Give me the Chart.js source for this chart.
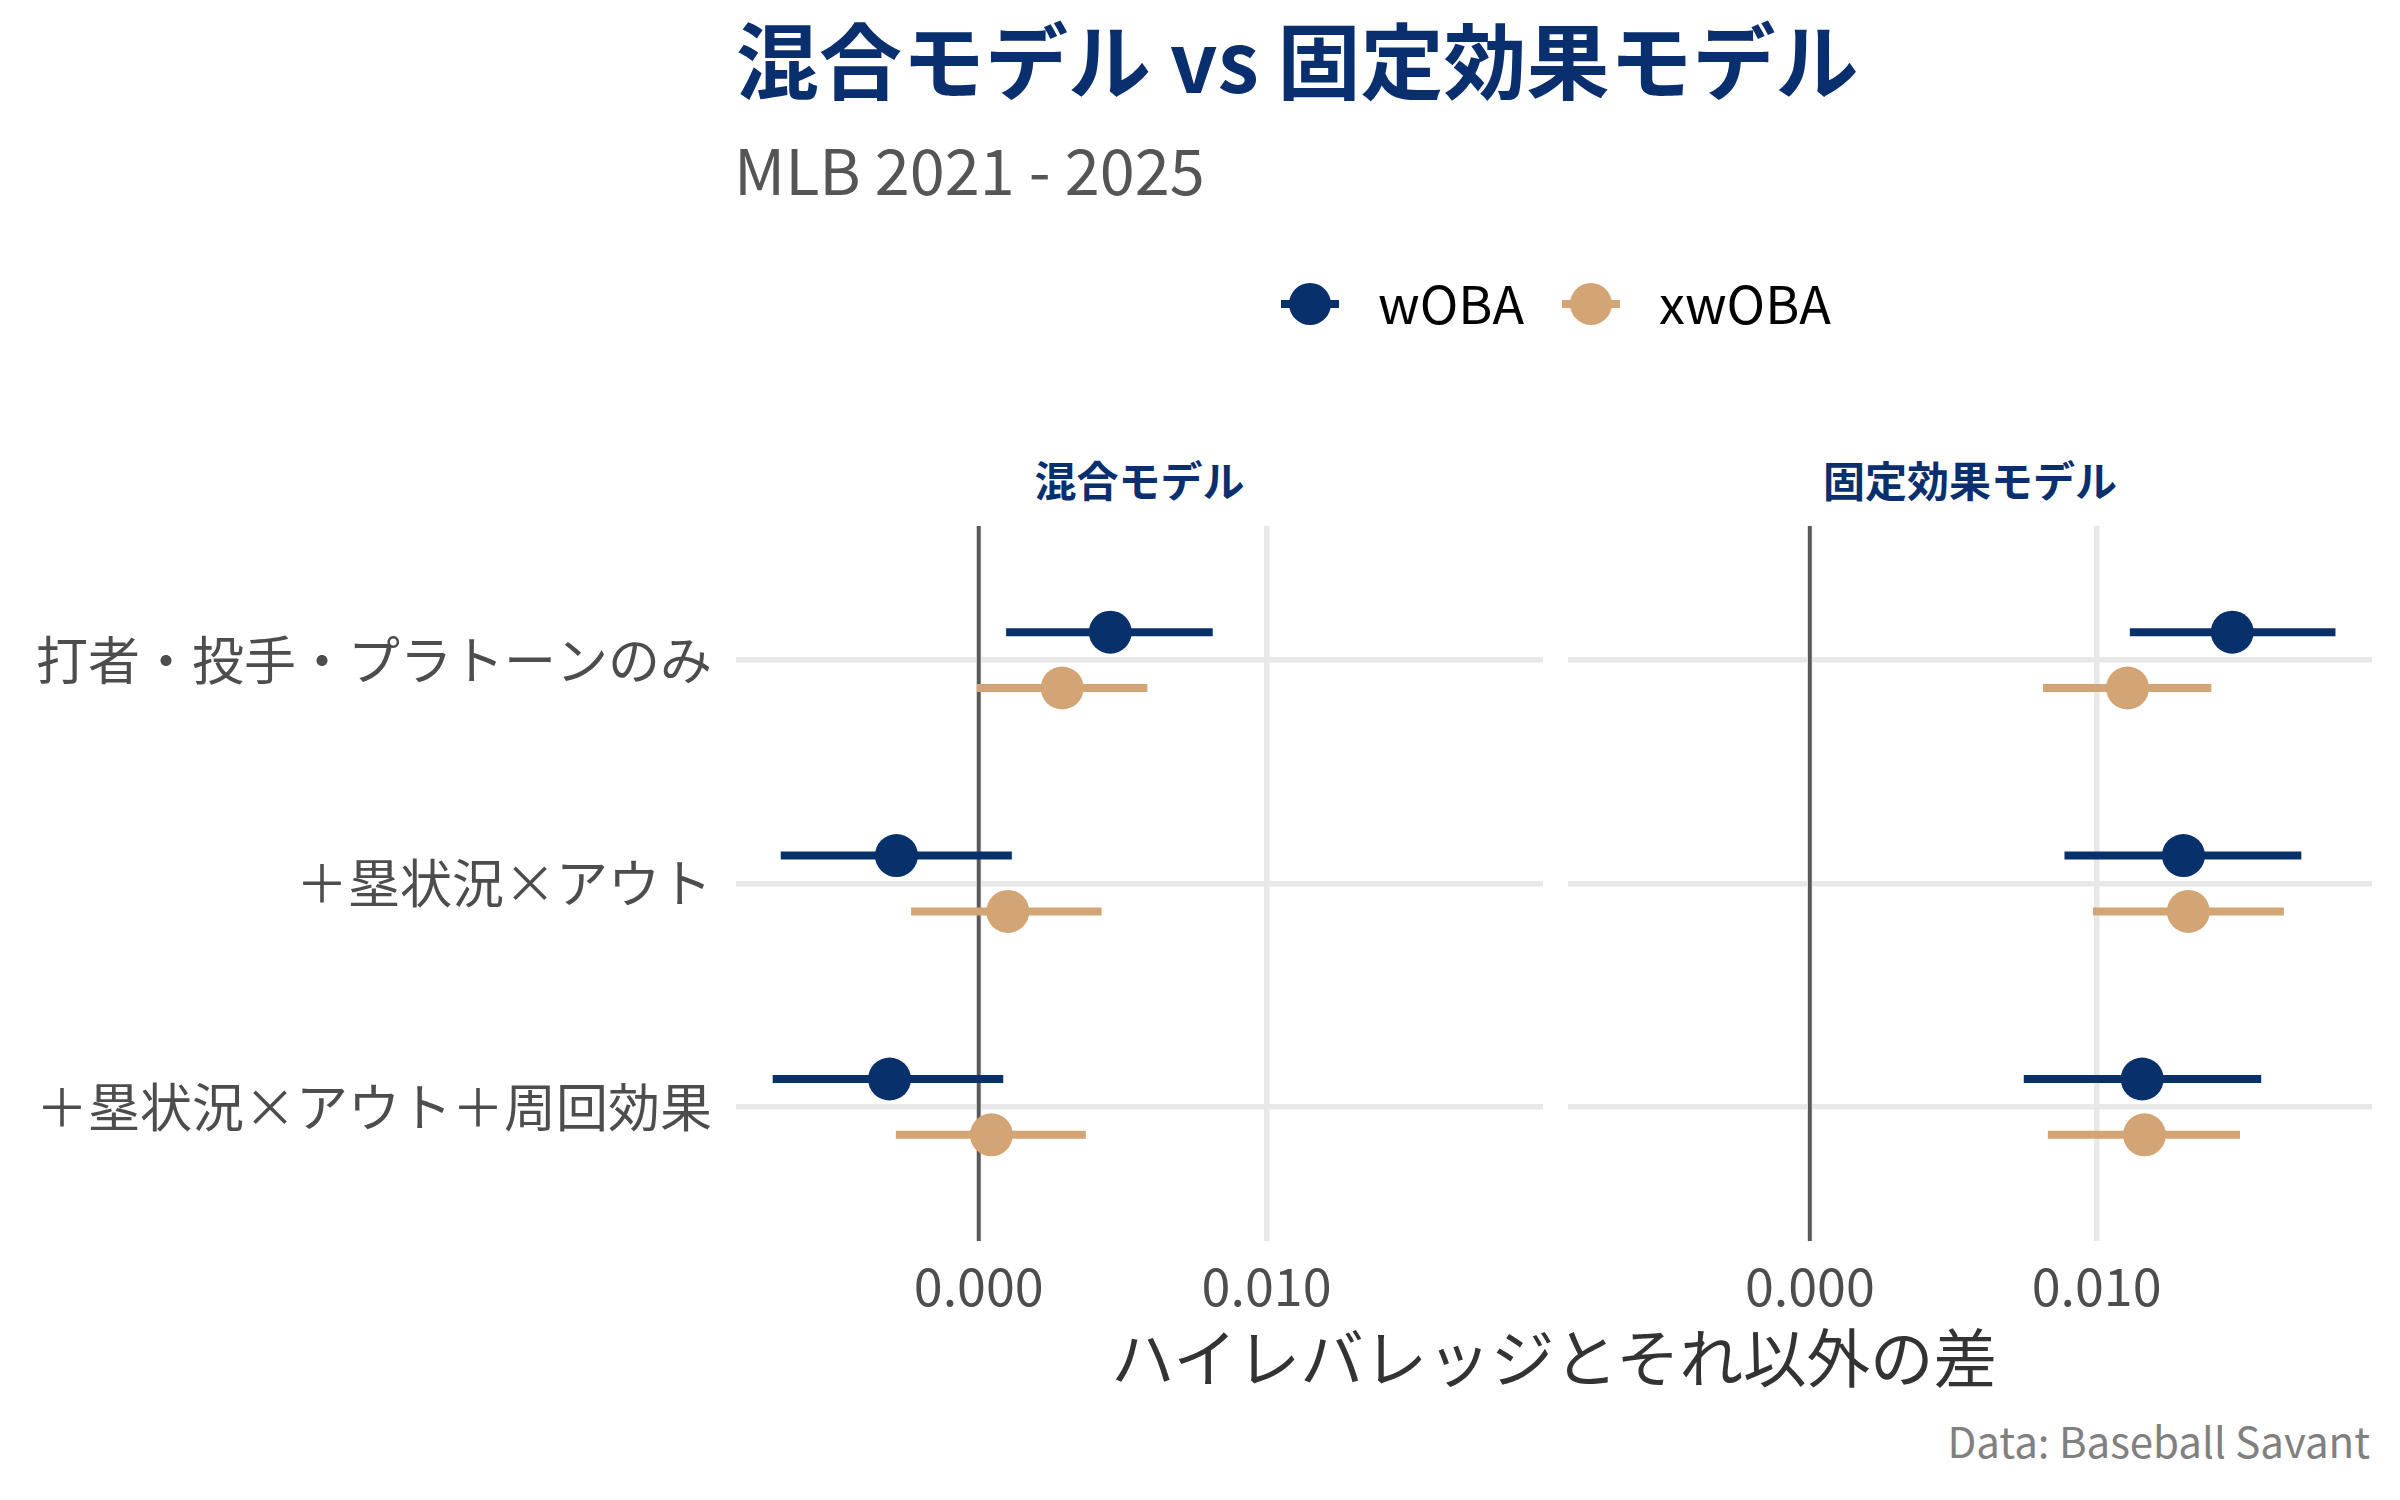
<!DOCTYPE html>
<html><head><meta charset="utf-8">
<script src="https://cdn.jsdelivr.net/npm/chart.js@4.4.0/dist/chart.umd.min.js"></script>
<style>
html,body{margin:0;padding:0;background:#fff;}
#root{position:relative;width:2400px;height:1500px;background:#fff;font-family:"Noto Sans CJK JP","Noto Sans",sans-serif;overflow:hidden;}
.t{position:absolute;white-space:nowrap;}
canvas{position:absolute;}
.mk{position:absolute;}
</style></head><body>
<div id="root">
  <div class="t" id="title" style="left:736px;top:16px;font-size:83px;line-height:83px;font-weight:700;color:#0a2f6e;"></div>
  <div class="t" id="subtitle" style="left:734px;top:136px;font-size:63px;line-height:63px;color:#555555;"></div>
  <div id="legend"></div>
  <div class="t strip" id="strip0" style="top:458px;font-size:42px;line-height:42px;font-weight:700;color:#0a2f6e;transform:translateX(-50%);"></div>
  <div class="t strip" id="strip1" style="top:458px;font-size:42px;line-height:42px;font-weight:700;color:#0a2f6e;transform:translateX(-50%);"></div>
  <canvas id="c0" width="1543" height="815" style="left:0px;top:526px;"></canvas>
  <canvas id="c1" width="804" height="815" style="left:1568px;top:526px;"></canvas>
  <div class="t" id="xtitle" style="left:1554px;top:1323px;font-size:63.5px;line-height:63.5px;color:#333333;transform:translateX(-50%);"></div>
  <div class="t" id="caption" style="right:30px;top:1419px;font-size:42px;line-height:42px;color:#808080;"></div>
</div>
<script>
// ---- data ----
const titleText = '混合モデル vs 固定効果モデル';
const subtitleText = 'MLB 2021 - 2025';
const xAxisTitle = 'ハイレバレッジとそれ以外の差';
const captionText = 'Data: Baseball Savant';
const categories = ['打者・投手・プラトーンのみ', '＋塁状況×アウト', '＋塁状況×アウト＋周回効果'];
const panelNames = ['混合モデル', '固定効果モデル'];
const seriesNames = ['wOBA', 'xwOBA'];
const seriesColors = ['#08306b', '#d4a574'];
const xTicks = [0, 0.01];

// 混合モデル
const mixedWobaEst  = [0.00457, -0.00286, -0.00310];
const mixedWobaLo   = [0.00095, -0.00688, -0.00716];
const mixedWobaHi   = [0.00813,  0.00115,  0.00085];
const mixedXwobaEst = [0.00290,  0.00101,  0.00044];
const mixedXwobaLo  = [-0.00006, -0.00235, -0.00288];
const mixedXwobaHi  = [0.00586,  0.00427,  0.00372];
// 固定効果モデル
const fixedWobaEst  = [0.01473, 0.01303, 0.01159];
const fixedWobaLo   = [0.01116, 0.00888, 0.00746];
const fixedWobaHi   = [0.01833, 0.01714, 0.01574];
const fixedXwobaEst = [0.01108, 0.01320, 0.01167];
const fixedXwobaLo  = [0.00813, 0.00987, 0.00830];
const fixedXwobaHi  = [0.01400, 0.01653, 0.01500];

// ---- text ----
const FONT = '"Noto Sans CJK JP", "Noto Sans", sans-serif';
document.getElementById('title').textContent = titleText;
document.getElementById('subtitle').textContent = subtitleText;
document.getElementById('xtitle').textContent = xAxisTitle;
document.getElementById('caption').textContent = captionText;
const s0 = document.getElementById('strip0'); s0.textContent = panelNames[0]; s0.style.left = ((736 + 1543) / 2) + 'px';
const s1 = document.getElementById('strip1'); s1.textContent = panelNames[1]; s1.style.left = ((1568 + 2372) / 2) + 'px';

// legend
const legend = document.getElementById('legend');
const legendX = [1310, 1591];
seriesNames.forEach((name, i) => {
  const cx = legendX[i], cy = 304;
  const line = document.createElement('div');
  line.className = 'mk';
  Object.assign(line.style, {left: (cx - 29) + 'px', top: (cy - 3.6) + 'px', width: '58px', height: '7.3px', background: seriesColors[i]});
  const dot = document.createElement('div');
  dot.className = 'mk';
  Object.assign(dot.style, {left: (cx - 21) + 'px', top: (cy - 21) + 'px', width: '42px', height: '42px', borderRadius: '50%', background: seriesColors[i]});
  const txt = document.createElement('div');
  txt.className = 't';
  txt.textContent = name;
  Object.assign(txt.style, {left: (cx + 68) + 'px', top: '276px', fontSize: '52px', lineHeight: '52px', color: '#000'});
  legend.appendChild(line); legend.appendChild(dot); legend.appendChild(txt);
});

// x range: data range + 5% expansion (shared by both panels)
const allLo = [].concat(mixedWobaLo, mixedXwobaLo, fixedWobaLo, fixedXwobaLo);
const allHi = [].concat(mixedWobaHi, mixedXwobaHi, fixedWobaHi, fixedXwobaHi);
const dMin = Math.min.apply(null, allLo), dMax = Math.max.apply(null, allHi);
const pad = (dMax - dMin) * 0.05;
const xMin = dMin - pad, xMax = dMax + pad;
const dodge = 0.125;

function zeroPad(sc) { sc.paddingTop = 0; sc.paddingBottom = 0; sc.paddingLeft = 0; sc.paddingRight = 0; }

function makePanel(id, est, showY) {
  const datasets = [];
  est.forEach((s, k) => {
    const off = k === 0 ? -dodge : dodge;
    datasets.push({
      type: 'scatter', label: seriesNames[k],
      data: s.e.map((v, i) => ({x: v, y: i + 1 + off})),
      backgroundColor: seriesColors[k], borderWidth: 0, pointRadius: 21.5, pointHoverRadius: 21.5, clip: false
    });
  });
  est.forEach((s, k) => {
    const off = k === 0 ? -dodge : dodge;
    s.lo.forEach((lo, i) => {
      datasets.push({
        type: 'line', label: seriesNames[k] + ' CI',
        data: [{x: lo, y: i + 1 + off}, {x: s.hi[i], y: i + 1 + off}],
        borderColor: seriesColors[k], borderWidth: 8, pointRadius: 0, borderCapStyle: 'butt', fill: false
      });
    });
  });
  datasets.push({
    type: 'line', label: 'zero',
    data: [{x: 0, y: 0.4}, {x: 0, y: 3.6}],
    borderColor: '#595959', borderWidth: 3.8, pointRadius: 0, fill: false
  });
  return new Chart(document.getElementById(id), {
    type: 'scatter',
    data: {datasets},
    options: {
      responsive: false, animation: false, devicePixelRatio: 1,
      layout: {padding: 0, autoPadding: false},
      plugins: {legend: {display: false}, tooltip: {enabled: false}},
      scales: {
        x: {
          type: 'linear', min: xMin, max: xMax,
          afterBuildTicks: sc => { sc.ticks = xTicks.map(v => ({value: v})); },
          afterFit: sc => { sc.height = 100; zeroPad(sc); },
          ticks: {callback: v => Number(v).toFixed(3), font: {family: FONT, size: 52}, color: '#4d4d4d', padding: 14, maxRotation: 0},
          grid: {color: '#e8e8e8', lineWidth: 5.5, drawTicks: false},
          border: {display: false}
        },
        y: {
          type: 'linear', reverse: true, min: 0.4, max: 3.6,
          afterBuildTicks: sc => { sc.ticks = categories.map((c, i) => ({value: i + 1})); },
          afterFit: sc => { sc.width = showY ? 736 : 0; zeroPad(sc); },
          ticks: {display: showY, callback: v => categories[Math.round(v) - 1], font: {family: FONT, size: 52}, color: '#4d4d4d', padding: 24},
          grid: {color: '#e8e8e8', lineWidth: 5.5, drawTicks: false},
          border: {display: false}
        }
      }
    }
  });
}

makePanel('c0', [
  {e: mixedWobaEst, lo: mixedWobaLo, hi: mixedWobaHi},
  {e: mixedXwobaEst, lo: mixedXwobaLo, hi: mixedXwobaHi}
], true);
makePanel('c1', [
  {e: fixedWobaEst, lo: fixedWobaLo, hi: fixedWobaHi},
  {e: fixedXwobaEst, lo: fixedXwobaLo, hi: fixedXwobaHi}
], false);
</script>
</body></html>
